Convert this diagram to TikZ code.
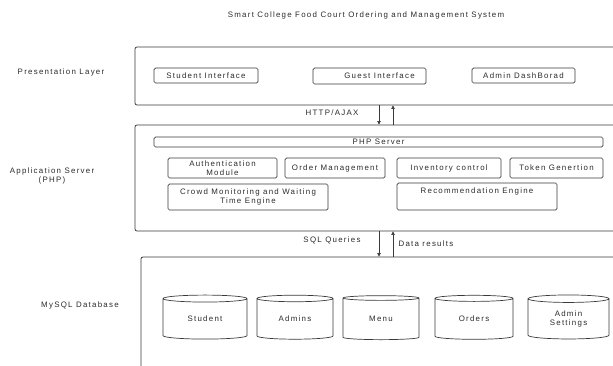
\documentclass[tikz,border=0pt]{standalone}
\usepackage{fontspec}
\setmainfont{Liberation Sans}[LetterSpace=16]
\usetikzlibrary{arrows.meta,shapes.geometric}
\definecolor{linegray}{HTML}{3A3A3A}
\definecolor{txtgray}{HTML}{2B2B2B}
\tikzset{
  every node/.style={font=\fontsize{7.9}{9}\selectfont, text=txtgray},
  layer/.style={draw=linegray, line width=0.8pt, rounded corners=2pt, inner sep=0pt},
  module/.style={draw=linegray, line width=0.7pt, rounded corners=1.5pt, inner sep=0pt, align=center},
  dbtable/.style={draw=linegray, line width=0.7pt, cylinder, shape border rotate=90, aspect=0.2, inner sep=0pt, align=center},
  flow/.style={draw=linegray, line width=0.6pt, -{Triangle[length=3.5pt,width=3.5pt]}}
}
\begin{document}
\begin{tikzpicture}[x=1pt, y=-1pt]
\useasboundingbox (0,0) rectangle (613,365);
\clip (0,0) rectangle (613,365);
\node (title) at (366,15) {Smart College Food Court Ordering and Management System};

% presentation layer
\node (preslbl) at (61,72) {Presentation Layer};
\node[layer, minimum width=485, minimum height=58] (pres) at (377.5,76) {};
\node[module, minimum width=104, minimum height=15] (stud) at (206,75.5) {Student Interface};
\node[module, minimum width=113, minimum height=16] (guest) at (369.5,76) {\hspace*{20pt}Guest Interface};
\node[module, minimum width=103, minimum height=15] (admin) at (523.5,75.5) {Admin DashBorad};

% application server
\node[align=center] (applbl) at (52,176) {Application Server\\(PHP)};
\node[layer, minimum width=485, minimum height=106] (app) at (377.5,178) {};
\node[module, minimum width=449, minimum height=10] (php) at (378.5,142) {PHP Server};
\node[module, minimum width=109, minimum height=20] (auth) at (222.5,168) {Authentication\\Module};
\node[module, minimum width=100, minimum height=20] (order) at (335,168) {Order Management};
\node[module, minimum width=104, minimum height=20] (inv) at (449,168) {Inventory control};
\node[module, minimum width=93, minimum height=20] (token) at (556.5,168) {Token Genertion};
\node[module, minimum width=160, minimum height=26] (crowd) at (248,197) {};
\node[align=center, anchor=north] (crowdtxt) at ([yshift=-2pt]crowd.north) {Crowd Monitoring and Waiting\\Time Engine};
\node[module, minimum width=160, minimum height=27] (rec) at (477,196.5) {};
\node[anchor=north] (rectxt) at ([yshift=-2pt]rec.north) {Recommendation Engine};

% database
\node (dblbl) at (80,305) {MySQL Database};
\node[layer, minimum width=479, minimum height=118] (db) at (380.5,316) {};
\node[dbtable, minimum width=84, minimum height=44] (student) at (205,319) {Student};
\node[dbtable, minimum width=76, minimum height=44] (admins) at (295,319) {Admins};
\node[dbtable, minimum width=76, minimum height=44] (menu) at (381,319) {Menu};
\node[dbtable, minimum width=78, minimum height=44] (orders) at (474,319) {Orders};
\node[dbtable, minimum width=81, minimum height=44] (settings) at (568.5,319) {Admin\\Settings};

% connectors
\draw[flow] (pres.south -| 379,0) -- (app.north -| 379,0);
\draw[flow] (app.north -| 393,0) -- (pres.south -| 393,0);
\node (http) at (332,113) {HTTP/AJAX};
\draw[flow] (app.south -| 379,0) -- (db.north -| 379,0);
\draw[flow] (db.north -| 393,0) -- (app.south -| 393,0);
\node (sql) at (332,240) {SQL Queries};
\node[anchor=west] (res) at (395,244) {Data results};
\end{tikzpicture}
\end{document}
